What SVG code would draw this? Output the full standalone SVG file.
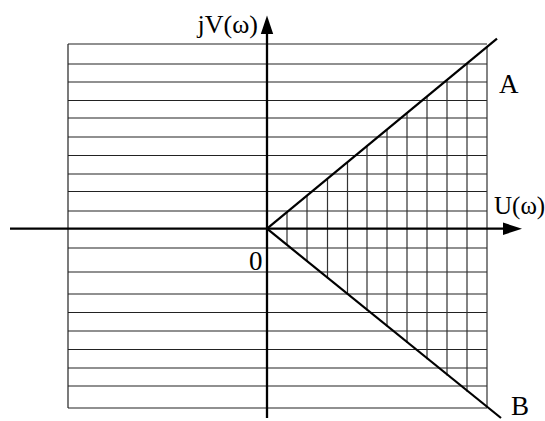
<svg xmlns="http://www.w3.org/2000/svg" width="545" height="421" viewBox="0 0 545 421">
<style>
.grid{stroke:#222;stroke-width:1.2;fill:none}
.vg{stroke:#333;stroke-width:1.2;fill:none}
.ax{stroke:#000;stroke-width:2.3;fill:none}
.ln{stroke:#000;stroke-width:2.2;fill:none}
.lbl{font-family:"Liberation Serif","Times New Roman",serif;fill:#000}
</style>
<rect width="545" height="421" fill="#fff"/>
<g id="grid">
<g class="grid">
<path d="M68,44H487M68,64H487M68,82H487M68,100.5H487M68,118H487M68,137H487M68,155.5H487M68,174H487M68,191.5H487M68,211H487M68,248H487M68,272H487M68,294H487M68,312.5H487M68,331H487M68,349.5H487M68,368H487M68,386H487M68,408H487"/>
<path d="M68,44V408"/>
</g>
<g class="vg">
<path d="M287,212.5V245.3M307,195.9V261.5M327.5,179V278.2M347.5,162.4V294.5M367,146.3V310.4M387,129.8V326.6M407,113.2V342.9M427,96.7V359.2M447,80.1V375.5M467,63.6V391.7M487,47V408"/>
</g>
</g>
<g id="connectors">
<path class="ax" d="M10,228.7H505"/>
<polygon points="503,222.5 503,235 522,228.7" fill="#000"/>
<path class="ax" d="M267,418V32"/>
<polygon points="260.8,34 273.2,34 267,15.5" fill="#000"/>
<path class="ln" d="M267,228.7L497,38.7"/>
<path class="ln" d="M267,228.7L501,418"/>
</g>
<g id="label-jV"><text class="lbl" x="258" y="33" font-size="26" text-anchor="end">jV(ω)</text></g>
<g id="label-U"><text class="lbl" x="494" y="214" font-size="25">U(ω)</text></g>
<g id="label-0"><text class="lbl" x="249" y="270" font-size="27">0</text></g>
<g id="label-A"><text class="lbl" x="499" y="93" font-size="27">A</text></g>
<g id="label-B"><text class="lbl" x="511" y="415" font-size="27">B</text></g>
</svg>
